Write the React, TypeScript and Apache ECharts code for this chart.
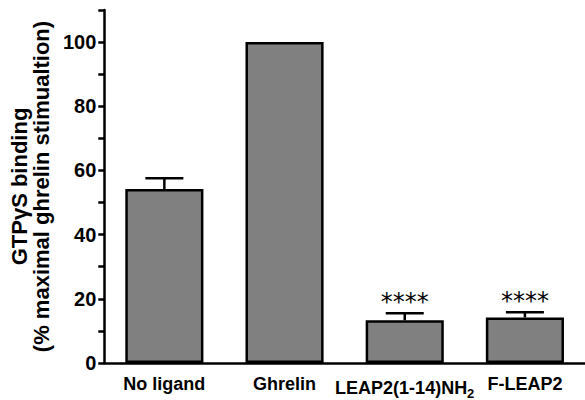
import React, { useEffect, useRef } from "react";
import * as echarts from "echarts";

const categories = ["No ligand", "Ghrelin", "LEAP2(1-14)NH{sub|2}", "F-LEAP2"];
const means = [54.2, 100, 13.3, 14.2];
const errorTops = [57.6, 100, 15.5, 15.8];
const significance = ["", "", "****", "****"];
const yTicks = [0, 20, 40, 60, 80, 100];

export default function App() {
  const ref = useRef<HTMLDivElement>(null);
  useEffect(() => {
    const chart = echarts.init(ref.current!, undefined, { renderer: "svg" });
    const font = "'Liberation Sans', Arial, sans-serif";
    chart.setOption({
      animation: false,
      grid: { left: 101, right: 0, top: 10, bottom: 34 },
      xAxis: {
        type: "category",
        data: categories,
        axisLine: { lineStyle: { color: "#000", width: 2.5 } },
        axisTick: { alignWithLabel: true, length: 6, lineStyle: { color: "#000", width: 2.5 } },
        axisLabel: {
          interval: 0,
          margin: 12,
          color: "#000",
          fontFamily: font,
          fontWeight: "bold",
          fontSize: 18,
          rich: {
            sub: { fontSize: 13, fontWeight: "bold", fontFamily: font, color: "#000", verticalAlign: "bottom", padding: [12, 0, 0, 0] },
          },
        },
      },
      yAxis: {
        type: "value",
        min: 0,
        max: 110,
        interval: 10,
        name: "GTPγS binding\n(% maximal ghrelin stimualtion)",
        nameLocation: "middle",
        nameGap: 46,
        nameTextStyle: { color: "#000", fontFamily: font, fontWeight: "bold", fontSize: 22, lineHeight: 22 },
        axisLine: { show: true, lineStyle: { color: "#000", width: 2.5 } },
        axisTick: { show: true, length: 6, lineStyle: { color: "#000", width: 2.5 } },
        splitLine: { show: false },
        axisLabel: {
          color: "#000",
          fontFamily: font,
          fontWeight: "bold",
          fontSize: 20,
          margin: 8,
          formatter: (v: number) => (yTicks.includes(v) ? String(v) : ""),
        },
      },
      series: [
        {
          type: "bar",
          data: means,
          barWidth: "65%",
          itemStyle: { color: "#808080", borderColor: "#000", borderWidth: 2.5 },
        },
        {
          type: "custom",
          data: means.map((m, i) => [i, m, errorTops[i]]),
          z: 5,
          renderItem: (params: any, api: any) => {
            const i = api.value(0);
            const base = api.coord([i, api.value(1)]);
            const top = api.coord([i, api.value(2)]);
            const hw = 19;
            const children: any[] = [];
            if (api.value(2) > api.value(1)) {
              children.push(
                { type: "line", shape: { x1: base[0], y1: base[1], x2: top[0], y2: top[1] }, style: { stroke: "#000", lineWidth: 2.5 } },
                { type: "line", shape: { x1: top[0] - hw, y1: top[1], x2: top[0] + hw, y2: top[1] }, style: { stroke: "#000", lineWidth: 2.5 } }
              );
            }
            const s = significance[params.dataIndex];
            if (s) {
              children.push({
                type: "text",
                x: top[0],
                y: top[1] - 11,
                style: { text: s, fill: "#000", font: "24px 'DejaVu Sans', sans-serif", align: "center", verticalAlign: "middle" },
              });
            }
            return { type: "group", children };
          },
        },
      ],
    });
    return () => chart.dispose();
  }, []);
  return <div ref={ref} style={{ width: 585, height: 400, position: "absolute", left: 0, top: 0 }} />;
}
